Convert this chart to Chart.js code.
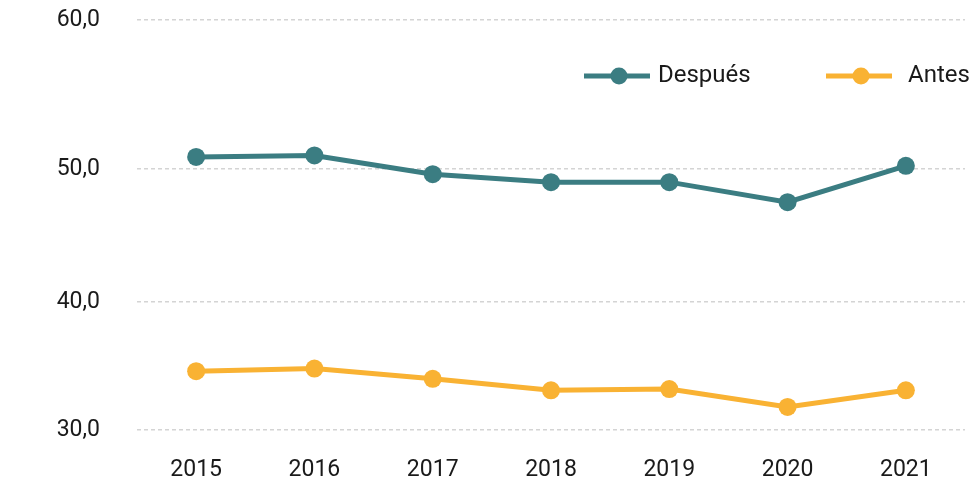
<!DOCTYPE html>
<html>
<head>
<meta charset="utf-8">
<script src="https://cdn.jsdelivr.net/npm/chart.js@4.4.0/dist/chart.umd.min.js"></script>
<style>
  html, body { margin: 0; padding: 0; background: #ffffff; }
  #wrap { width: 974px; height: 482px; position: relative; }
</style>
</head>
<body>
<div id="wrap"><canvas id="c" width="974" height="482"></canvas></div>
<script>
// ---- data ----
const years = ['2015', '2016', '2017', '2018', '2019', '2020', '2021'];
const despues = [50.8, 50.9, 49.6, 49.0, 49.0, 47.5, 50.2];
const antes = [34.6, 34.8, 34.0, 33.1, 33.2, 31.8, 33.1];
const seriesNames = ['Después', 'Antes'];
const yTickValues = [30, 40, 50, 60];

const FONT = 'Roboto, "DejaVu Sans", sans-serif';
const TEXT = '#1a1a1a';
const TEAL = '#3b7d82';
const GOLD = '#f9b233';

// Value axis with uneven spacing between its gridlines, as in the original figure
class PiecewiseScale extends Chart.LinearScale {
  _toDecimal(v) {
    const b = this.options.breaks;
    if (v <= b[0].value) return b[0].at + (v - b[0].value) * (b[1].at - b[0].at) / (b[1].value - b[0].value);
    for (let i = 1; i < b.length; i++) {
      if (v <= b[i].value || i === b.length - 1) {
        const p = b[i - 1], q = b[i];
        return p.at + (v - p.value) * (q.at - p.at) / (q.value - p.value);
      }
    }
  }
  _fromDecimal(d) {
    const b = this.options.breaks;
    for (let i = 1; i < b.length; i++) {
      if (d <= b[i].at || i === b.length - 1) {
        const p = b[i - 1], q = b[i];
        return p.value + (d - p.at) * (q.value - p.value) / (q.at - p.at);
      }
    }
  }
  getPixelForValue(value) {
    if (value === null || value === undefined || isNaN(value)) return NaN;
    return this.getPixelForDecimal(this._toDecimal(value));
  }
  getValueForPixel(pixel) {
    return this._fromDecimal(this.getDecimalForPixel(pixel));
  }
}
PiecewiseScale.id = 'piecewise';
PiecewiseScale.defaults = { ticks: { callback: Chart.Ticks.formatters.numeric } };
Chart.register(PiecewiseScale);

const legendPlugin = {
  id: 'lineLegend',
  afterDraw(chart) {
    const ctx = chart.ctx;
    const items = [
      { ds: 0, lineX: 584, textX: 658 },
      { ds: 1, lineX: 826, textX: 908 }
    ];
    const y = 76, len = 66;
    ctx.save();
    items.forEach(it => {
      const ds = chart.data.datasets[it.ds];
      ctx.strokeStyle = ds.borderColor;
      ctx.lineWidth = 5;
      ctx.beginPath();
      ctx.moveTo(it.lineX, y);
      ctx.lineTo(it.lineX + len, y);
      ctx.stroke();
      ctx.fillStyle = ds.borderColor;
      ctx.beginPath();
      ctx.arc(it.lineX + len / 2 + 2, y, 8.5, 0, Math.PI * 2);
      ctx.fill();
      ctx.fillStyle = TEXT;
      ctx.font = '24px ' + FONT;
      ctx.textBaseline = 'middle';
      ctx.textAlign = 'left';
      ctx.fillText(ds.label, it.textX, y);
    });
    ctx.restore();
  }
};

new Chart(document.getElementById('c'), {
  type: 'line',
  data: {
    labels: years,
    datasets: [
      {
        label: seriesNames[0],
        data: despues,
        borderColor: TEAL,
        backgroundColor: TEAL,
        borderWidth: 5,
        pointRadius: 9,
        pointHoverRadius: 9,
        pointBorderWidth: 0,
        tension: 0
      },
      {
        label: seriesNames[1],
        data: antes,
        borderColor: GOLD,
        backgroundColor: GOLD,
        borderWidth: 5,
        pointRadius: 9,
        pointHoverRadius: 9,
        pointBorderWidth: 0,
        tension: 0
      }
    ]
  },
  options: {
    responsive: false,
    animation: false,
    layout: { padding: { top: 20, right: 6, bottom: 0, left: 0 } },
    plugins: {
      legend: { display: false },
      tooltip: { enabled: false }
    },
    scales: {
      x: {
        type: 'category',
        offset: true,
        grid: { display: false, drawTicks: false },
        border: { display: false },
        afterFit(scale) { scale.height = 52; },
        ticks: {
          color: TEXT,
          font: { family: FONT, size: 23, lineHeight: 1 },
          padding: 29,
          maxRotation: 0
        }
      },
      y: {
        type: 'piecewise',
        min: yTickValues[0],
        max: yTickValues[yTickValues.length - 1],
        breaks: [
          { value: yTickValues[0], at: 0 },
          { value: yTickValues[1], at: 0.312 },
          { value: yTickValues[2], at: 0.637 },
          { value: yTickValues[3], at: 1 }
        ],
        afterBuildTicks(scale) {
          scale.ticks = yTickValues.map(v => ({ value: v }));
        },
        afterFit(scale) {
          scale.width = 137;
          scale.paddingTop = 0;
          scale.paddingBottom = 0;
        },
        grid: {
          color: '#d4d4d4',
          lineWidth: 1.5,
          drawTicks: false
        },
        border: { display: false, dash: [4, 3] },
        ticks: {
          color: TEXT,
          font: { family: FONT, size: 23 },
          padding: 37,
          callback: v => v.toFixed(1).replace('.', ',')
        }
      }
    }
  },
  plugins: [legendPlugin]
});
</script>
</body>
</html>
